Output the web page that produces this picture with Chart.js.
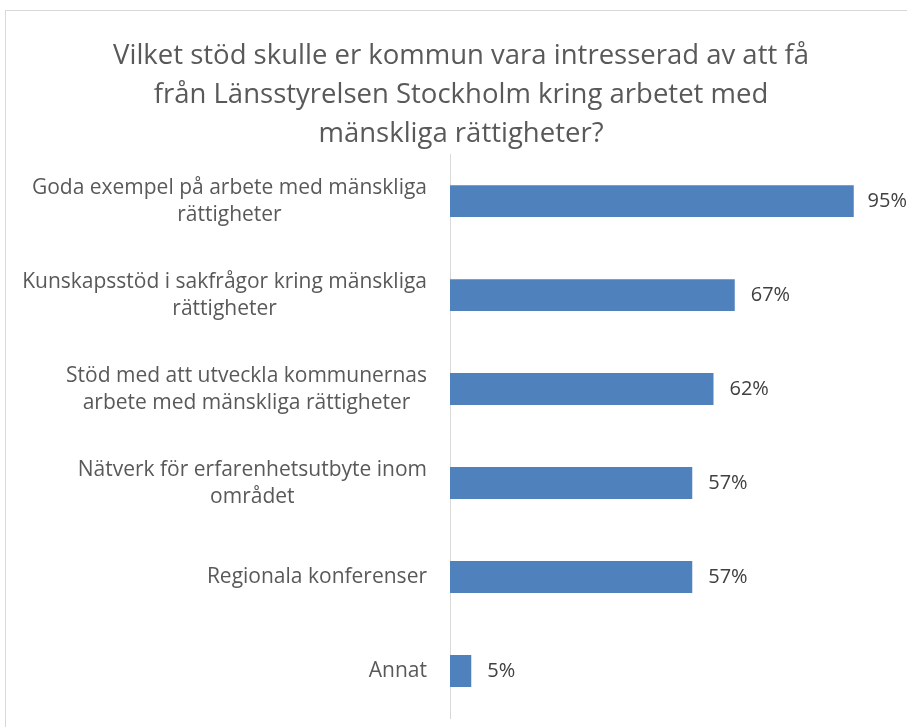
<!DOCTYPE html>
<html>
<head>
<meta charset="utf-8">
<script src="https://cdn.jsdelivr.net/npm/chart.js@4/dist/chart.umd.min.js"></script>
<style>
  html, body { margin: 0; padding: 0; background: #fff; overflow: hidden; }
  #frame { position: absolute; left: 5px; top: 10px; width: 930px; height: 740px; border: 1px solid #d9d9d9; }
  #wrap { position: absolute; left: 0; top: 0; width: 907px; height: 727px; }
</style>
</head>
<body>
<div id="frame"></div>
<div id="wrap"><canvas id="chart" width="907" height="727"></canvas></div>
<script>
// chart data
var titleLines = [
  "Vilket stöd skulle er kommun vara intresserad av att få",
  "från Länsstyrelsen Stockholm kring arbetet med",
  "mänskliga rättigheter?"
];
var categories = [
  ["Goda exempel på arbete med mänskliga", "rättigheter"],
  ["Kunskapsstöd i sakfrågor kring mänskliga", "rättigheter"],
  ["Stöd med att utveckla kommunernas", "arbete med mänskliga rättigheter"],
  ["Nätverk för erfarenhetsutbyte inom", "området"],
  ["Regionala konferenser"],
  ["Annat"]
];
var shares = [95, 67, 62, 57, 57, 5];

var FONT = "'Open Sans', sans-serif";

// category labels: each label right aligned as a block, lines centered
var labelPlugin = {
  id: "catLabels",
  afterDraw: function(chart) {
    var ctx = chart.ctx;
    var yScale = chart.scales.y;
    var right = chart.chartArea.left - 23;
    var lh = 27;
    ctx.save();
    ctx.font = "21px " + FONT;
    ctx.fillStyle = "#595959";
    ctx.textAlign = "center";
    ctx.textBaseline = "middle";
    categories.forEach(function(lines, i) {
      var w = 0;
      lines.forEach(function(t) { w = Math.max(w, ctx.measureText(t).width); });
      var cx = right - w / 2;
      var y0 = yScale.getPixelForValue(i) - (lines.length - 1) * lh / 2;
      lines.forEach(function(t, j) {
        ctx.fillText(t, cx, y0 + j * lh);
      });
    });
    ctx.restore();
  }
};

// value labels at the end of the bars (pushed back in if they would not fit)
var valuePlugin = {
  id: "valLabels",
  afterDatasetsDraw: function(chart) {
    var ctx = chart.ctx;
    var meta = chart.getDatasetMeta(0);
    ctx.save();
    ctx.font = "20px " + FONT;
    ctx.fillStyle = "#404040";
    ctx.textAlign = "left";
    ctx.textBaseline = "middle";
    meta.data.forEach(function(bar, i) {
      var txt = shares[i] + "%";
      var x = Math.min(bar.x + 16, chart.width - ctx.measureText(txt).width);
      ctx.fillText(txt, x, bar.y);
    });
    ctx.restore();
  }
};

new Chart(document.getElementById("chart"), {
  type: "bar",
  data: {
    labels: categories,
    datasets: [{
      data: shares,
      backgroundColor: "#4f81bd",
      borderWidth: 0,
      barPercentage: 0.68,
      categoryPercentage: 0.5
    }]
  },
  options: {
    indexAxis: "y",
    responsive: false,
    animation: false,
    layout: { padding: { left: 47, right: 32, top: 0, bottom: 9 } },
    plugins: {
      legend: { display: false },
      tooltip: { enabled: false },
      title: {
        display: true,
        text: titleLines,
        color: "#595959",
        font: { family: FONT, size: 27.5, weight: "normal", lineHeight: 1.42 },
        padding: { top: 37, bottom: 0 }
      }
    },
    scales: {
      x: {
        display: false,
        min: 0,
        max: 100
      },
      y: {
        ticks: { display: false },
        grid: { display: false },
        border: { display: true, color: "#d9d9d9", width: 1 },
        afterFit: function(scale) { scale.width = 403; }
      }
    }
  },
  plugins: [labelPlugin, valuePlugin]
});
</script>
</body>
</html>
